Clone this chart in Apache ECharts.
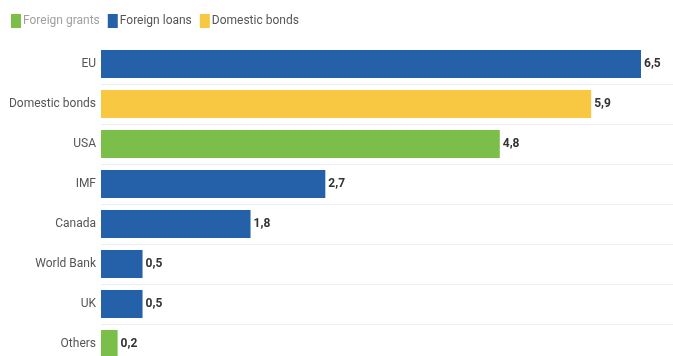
<!DOCTYPE html>
<html><head><meta charset="utf-8">
<script src="https://cdn.jsdelivr.net/npm/echarts@6/dist/echarts.min.js"></script>
<style>html,body{margin:0;padding:0;background:#fff}#c{width:673px;height:356px}</style>
</head><body><div id="c"></div>
<script>
const categories = ['EU','Domestic bonds','USA','IMF','Canada','World Bank','UK','Others'];
const foreignGrants = ['-','-',4.8,'-','-','-','-',0.2];
const foreignLoans = [6.5,'-','-',2.7,1.8,0.5,0.5,'-'];
const domesticBonds = ['-',5.9,'-','-','-','-','-','-'];
const seriesNames = ['Foreign grants','Foreign loans','Domestic bonds'];

const chart = echarts.init(document.getElementById('c'));
const lbl = {show:true, position:'right', distance:3, color:'#333', fontWeight:'bold', fontSize:12, fontFamily:'Roboto',
  formatter:p => String(p.value).replace('.',',')};
chart.setOption({
  animation:false,
  textStyle:{fontFamily:'Roboto'},
  legend:{left:6, top:9, itemWidth:10, itemHeight:14, itemGap:8, icon:'rect',
    textStyle:{fontSize:12, color:'#555', padding:[0,0,0,-3]},
    data:[{name:seriesNames[0], textStyle:{color:'#a0a0a0'}},{name:seriesNames[1]},{name:seriesNames[2]}]},
  grid:{left:101, right:0, top:44, height:320, outerBoundsMode:'none', containLabel:false},
  xAxis:{type:'value', min:0, max:6.885, show:false},
  yAxis:{type:'category', data:categories, inverse:true,
    axisLine:{show:false}, axisTick:{show:false},
    axisLabel:{margin:5, fontSize:12, color:'#555'},
    splitLine:{show:true, interval:(i)=> i>0, lineStyle:{color:'#eeeeee', width:1}}},
  series:[
    {name:seriesNames[0], type:'bar', stack:'a', data:foreignGrants, itemStyle:{color:'#7bbf4a'}, barWidth:28, label:lbl},
    {name:seriesNames[1], type:'bar', stack:'a', data:foreignLoans, itemStyle:{color:'#2561a8'}, barWidth:28, label:lbl},
    {name:seriesNames[2], type:'bar', stack:'a', data:domesticBonds, itemStyle:{color:'#f9c842'}, barWidth:28, label:lbl}
  ]
});
</script></body></html>
